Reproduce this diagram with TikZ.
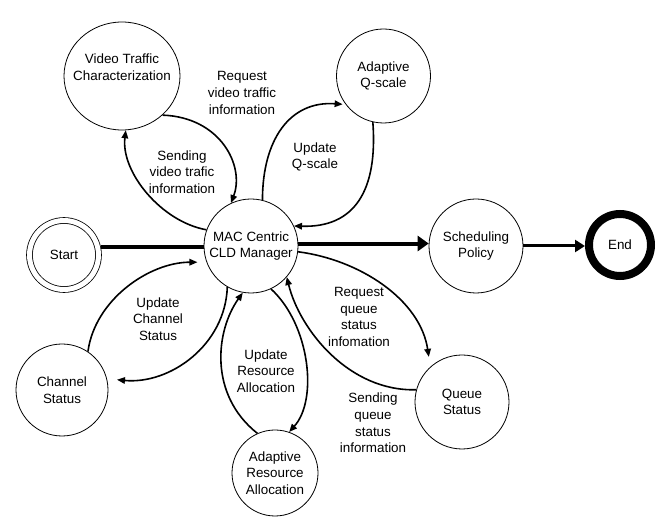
\documentclass[tikz,border=0pt]{standalone}
\usepackage{fontspec}
\setmainfont{Liberation Sans}
\usetikzlibrary{arrows.meta,shapes.geometric}
\newcommand\dfont{\fontsize{13.4}{16.6}\selectfont}
\begin{document}
\begin{tikzpicture}[x=1pt,y=-1pt,
  base/.style={draw, line width=0.8pt, inner sep=0pt, align=center, font=\dfont},
  st/.style={base, circle},
  conn/.style={line width=1.6pt, -{Triangle[length=8pt,width=6.5pt]}},
  lbl/.style={align=center, font=\dfont},
  heavy/.style={line width=4pt},
]
\useasboundingbox (0,0) rectangle (657,518);
% nodes
\node[st, minimum size=94pt] (mac) at (251,246) {MAC Centric\\CLD Manager};
\node[st, minimum size=94pt] (sched) at (476,246) {Scheduling\\Policy};
\node[st, line width=8pt, minimum size=62pt] (endn) at (620,245) {End};
\node[st, double, double distance=5pt, minimum size=69pt, outer sep=3pt] (start) at (64,255) {Start};
\node[base, ellipse, minimum width=116pt, minimum height=108pt] (vtc) at (122,76) {};
\node[lbl] (vtct) at (122,67) {Video Traffic\\Characterization};
\node[st, minimum size=94pt] (qs) at (383.5,76) {Adaptive\\Q-scale};
\node[st, minimum size=92pt] (cs) at (62,390) {Channel\\Status};
\node[st, minimum size=86pt] (ara) at (275,473) {Adaptive\\Resource\\Allocation};
\node[st, minimum size=94pt] (qu) at (462,402) {Queue\\Status};
% straight connectors
\draw[heavy] (start.12) -- (start.12 -| mac.west);
\draw[heavy, -{Triangle[length=11pt,width=15pt]}] (mac.3) -- (sched.177);
\draw[line width=3pt, -{Triangle[length=10pt,width=12pt]}] (sched.east) -- (sched.east -| endn.west);
% curved connectors
\draw[conn] (vtc.-44) .. controls +(58,2) and +(14,-37) .. (mac.115);
\draw[conn] (mac.160) .. controls +(-45,-8) and +(-5,42) .. (vtc.-86);
\draw[conn, shorten >=3pt] (mac.76) .. controls +(0,-60) and +(-56,-4) .. (qs.217);
\draw[conn] (qs.257) .. controls +(5,68) and +(61,2) .. (mac.25);
\draw[conn, shorten >=9pt] (cs.56) .. controls +(7,-52) and +(-57,0) .. (mac.200);
\draw[conn, shorten >=10pt] (mac.240) .. controls +(-2,58) and +(63,6) .. (cs.14);
\draw[conn] (ara.114) .. controls +(-49,-39) and +(-27,38) .. (mac.260);
\draw[conn] (mac.-65) .. controls +(39,36) and +(29,-32) .. (ara.71);
\draw[conn, shorten >=10pt] (mac.-7) .. controls +(62,8) and +(-10,-67) .. (qu.132);
\draw[conn] (qu.165) .. controls +(-67,2) and +(13,53) .. (mac.-41);
% labels
\node[lbl] (l1) at (242,93) {Request\\video traffic\\information};
\node[lbl] (l2) at (182,172) {Sending\\video trafic\\information};
\node[lbl] (l3) at (315,157) {Update\\Q-scale};
\node[lbl] (l4) at (158,319) {Update\\Channel\\Status};
\node[lbl] (l5) at (266,371) {Update\\Resource\\Allocation};
\node[lbl] (l6) at (359,317) {Request\\queue\\status\\infomation};
\node[lbl] (l7) at (373,423) {Sending\\queue\\status\\information};
\end{tikzpicture}
\end{document}
